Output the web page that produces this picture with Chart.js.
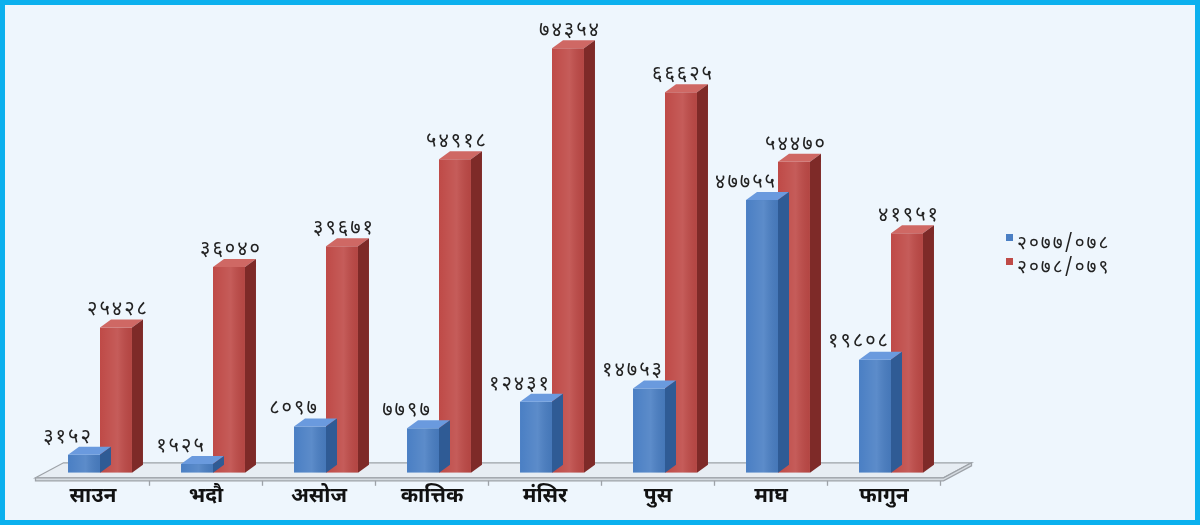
<!DOCTYPE html>
<html>
<head>
<meta charset="utf-8">
<script src="https://cdn.jsdelivr.net/npm/chart.js@4.4.1/dist/chart.umd.min.js"></script>
<style>
  html, body { margin: 0; padding: 0; background: #eef6fd; }
  #wrap { position: relative; width: 1200px; height: 525px; }
  #frame { position: absolute; left: 0; top: 0; width: 1200px; height: 525px; box-sizing: border-box;
           border: 5px solid #0bb0ee; pointer-events: none; }
  .leg { position: absolute; left: 1006px; font: 19px "Noto Sans Devanagari", "Lohit Devanagari", "Noto Sans", sans-serif; color: #222; letter-spacing: 2px; }
  .leg span { position: absolute; left: 0; width: 7px; height: 7px; }
  .leg b { font-weight: normal; position: absolute; left: 11px; top: -2px; white-space: nowrap; }
</style>
</head>
<body>
<div id="wrap">
  <canvas id="salesChart" width="1200" height="525"></canvas>
  <div class="leg" style="top:234px"><span style="background:#4a7fc4"></span><b></b></div>
  <div class="leg" style="top:258px"><span style="background:#bf4a47"></span><b></b></div>
  <div id="frame"></div>
</div>
<script>
const categories = ['साउन', 'भदौ', 'असोज', 'कात्तिक', 'मंसिर', 'पुस', 'माघ', 'फागुन'];
const seriesNames = ['२०७७/०७८', '२०७८/०७९'];
const values2077 = [3152, 1525, 8097, 7797, 12431, 14753, 47755, 19808];
const values2078 = [25428, 36040, 39671, 54918, 74354, 66625, 54470, 41951];

const devFont = '"Noto Sans Devanagari", "Lohit Devanagari", "Noto Sans", sans-serif';

document.querySelectorAll('.leg b').forEach((el, i) => { el.textContent = seriesNames[i]; });

function toNepali(n) {
    const d = '०१२३४५६७८९';
    return String(n).replace(/[0-9]/g, c => d[+c]);
}

// depth of the fake 3d
const dx = 11, dy = -8;
const faceColors = [
    { top: '#6a9ade', side: '#2f5b95' },
    { top: '#cf6864', side: '#7e2a28' }
];

const bar3d = {
    id: 'bar3d',
    beforeDatasetsDraw(chart) {
        const ctx = chart.ctx;
        const area = chart.chartArea;
        const yFront = chart.scales.y.getPixelForValue(0) + 5;
        const yBack = yFront - 15;
        const l = area.left - 8, r = area.right - 4;
        ctx.save();
        ctx.fillStyle = '#e7edf3';
        ctx.strokeStyle = '#9da2a8';
        ctx.lineWidth = 1.3;
        ctx.beginPath();
        ctx.moveTo(l, yFront);
        ctx.lineTo(l + 28, yBack);
        ctx.lineTo(r + 28, yBack);
        ctx.lineTo(r, yFront);
        ctx.closePath();
        ctx.fill();
        ctx.stroke();
        // slab thickness
        ctx.fillStyle = '#d5dbe1';
        ctx.beginPath();
        ctx.moveTo(l, yFront);
        ctx.lineTo(l, yFront + 3);
        ctx.lineTo(r, yFront + 3);
        ctx.lineTo(r + 28, yBack + 3);
        ctx.lineTo(r + 28, yBack);
        ctx.lineTo(r, yFront);
        ctx.closePath();
        ctx.fill();
        ctx.stroke();
        // ticks between categories
        for (let i = 1; i <= categories.length; i++) {
            const x = area.left + i * (area.right - area.left) / categories.length - 7;
            ctx.beginPath();
            ctx.moveTo(x, yFront + 3);
            ctx.lineTo(x, yFront + 8);
            ctx.stroke();
        }
        ctx.restore();
    },
    afterDatasetDraw(chart, args) {
        const ctx = chart.ctx;
        const c = faceColors[args.index];
        ctx.save();
        args.meta.data.forEach(el => {
            const p = el.getProps(['x', 'y', 'base', 'width'], true);
            const left = p.x - p.width / 2, right = p.x + p.width / 2;
            // soft shading on the front face
            const g = ctx.createLinearGradient(left, 0, right, 0);
            g.addColorStop(0, 'rgba(255,255,255,0)');
            g.addColorStop(0.55, 'rgba(255,255,255,0.10)');
            g.addColorStop(1, 'rgba(0,0,0,0.06)');
            ctx.fillStyle = g;
            ctx.fillRect(left, p.y, p.width, p.base - p.y);
            ctx.fillStyle = c.top;
            ctx.beginPath();
            ctx.moveTo(left, p.y);
            ctx.lineTo(left + dx, p.y + dy);
            ctx.lineTo(right + dx, p.y + dy);
            ctx.lineTo(right, p.y);
            ctx.closePath();
            ctx.fill();
            ctx.fillStyle = c.side;
            ctx.beginPath();
            ctx.moveTo(right, p.y);
            ctx.lineTo(right + dx, p.y + dy);
            ctx.lineTo(right + dx, p.base + dy);
            ctx.lineTo(right, p.base);
            ctx.closePath();
            ctx.fill();
        });
        ctx.restore();
    },
    afterDatasetsDraw(chart) {
        const ctx = chart.ctx;
        ctx.save();
        ctx.font = '20px ' + devFont;
        ctx.letterSpacing = '2px';
        ctx.fillStyle = '#222';
        ctx.textAlign = 'center';
        ctx.textBaseline = 'bottom';
        chart.data.datasets.forEach((ds, i) => {
            chart.getDatasetMeta(i).data.forEach((el, j) => {
                const shift = i === 0 ? -16 : 2;
                ctx.fillText(toNepali(ds.data[j]), el.x + shift, el.y - 6);
            });
        });
        ctx.restore();
    }
};

const ctx = document.getElementById('salesChart').getContext('2d');

new Chart(ctx, {
    type: 'bar',
    data: {
        labels: categories,
        datasets: [{
            label: seriesNames[0],
            data: values2077,
            backgroundColor: '#4a7fc4'
        }, {
            label: seriesNames[1],
            data: values2078,
            backgroundColor: '#bf4a47'
        }]
    },
    options: {
        responsive: false,
        animation: false,
        devicePixelRatio: 1,
        layout: { padding: { left: 43.5, right: 252.5, top: 16, bottom: 9 } },
        datasets: { bar: { categoryPercentage: 0.566, barPercentage: 1 } },
        plugins: {
            legend: { display: false },
            tooltip: { enabled: false }
        },
        scales: {
            y: { display: false, min: 0, max: 80000 },
            x: {
                grid: { display: false },
                border: { display: false },
                ticks: {
                    color: '#111',
                    padding: 5,
                    labelOffset: -7,
                    font: { family: devFont, size: 21, weight: 'bold' }
                }
            }
        }
    },
    plugins: [bar3d]
});
</script>
</body>
</html>
